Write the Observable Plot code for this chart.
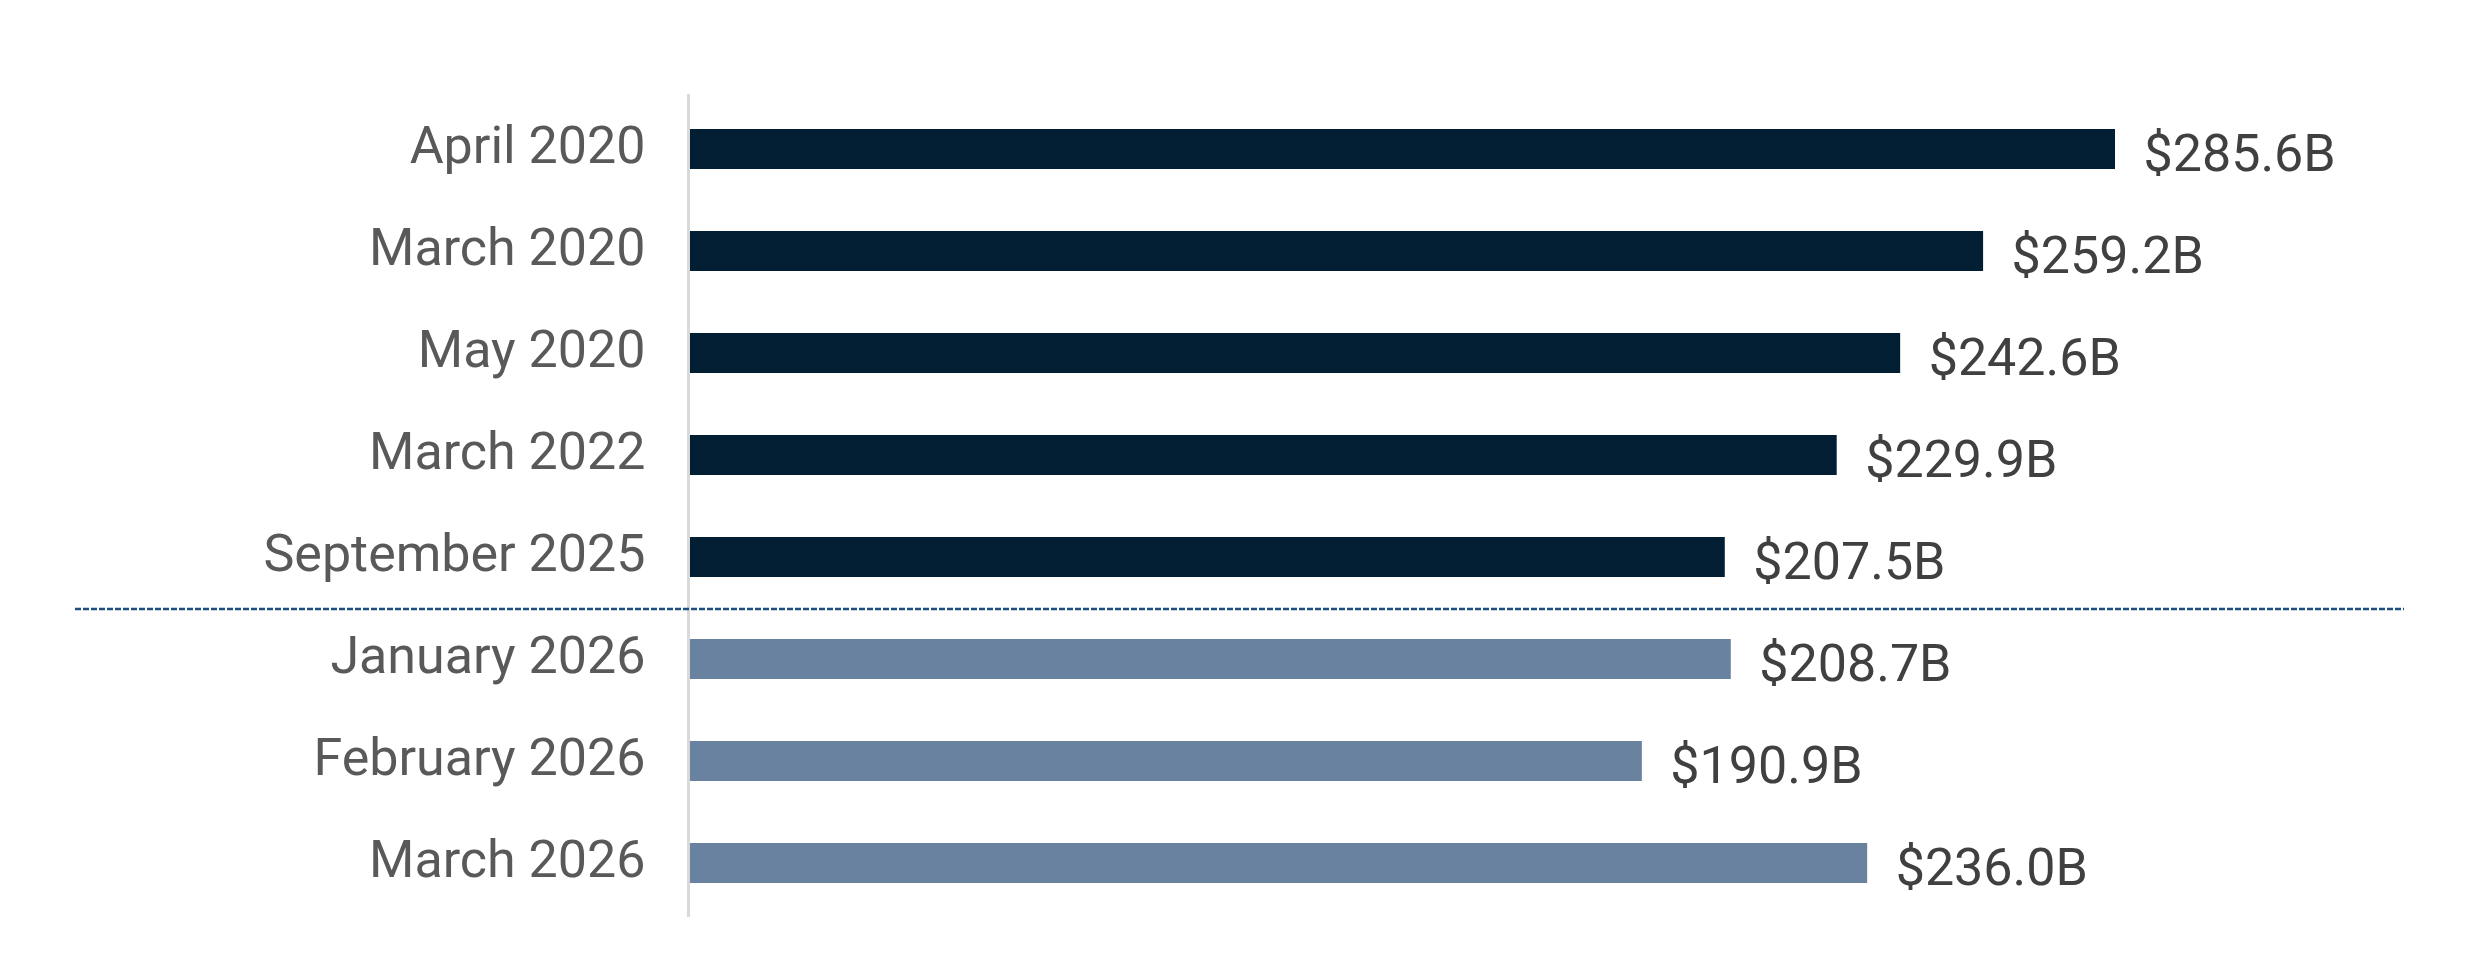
<!DOCTYPE html>
<html>
<head>
<meta charset="utf-8">
<script src="https://cdn.jsdelivr.net/npm/d3@7"></script>
<script src="https://cdn.jsdelivr.net/npm/@observablehq/plot@0.6"></script>
<style>
  html, body { margin: 0; padding: 0; background: #ffffff; }
  #chart svg { display: block; }
</style>
</head>
<body>
<div id="chart"></div>
<script>
const categories = ["April 2020", "March 2020", "May 2020", "March 2022", "September 2025", "January 2026", "February 2026", "March 2026"];
const values = [285.6, 259.2, 242.6, 229.9, 207.5, 208.7, 190.9, 236.0];
const groups = ["past", "past", "past", "past", "past", "2026", "2026", "2026"];
const groupNames = ["past", "2026"];
const groupColors = ["#011e32", "#68829f"];
const separatorBefore = ["January 2026"];

const data = categories.map((c, i) => ({category: c, value: values[i], group: groups[i]}));

const W = 2479, H = 957;
const marginTop = 94, marginBottom = 40, marginLeft = 688, marginRight = 364;
const step = (H - marginTop - marginBottom) / categories.length;

const chart = Plot.plot({
  width: W,
  height: H,
  marginTop, marginBottom, marginLeft, marginRight,
  style: {fontFamily: "Roboto, 'Liberation Sans', sans-serif", color: "#595959", background: "#ffffff"},
  x: {domain: [0, d3.max(values)], axis: null},
  y: {domain: categories, paddingInner: 0.61, paddingOuter: 0.305, label: null},
  color: {domain: groupNames, range: groupColors},
  marks: [
    Plot.barX(data, {y: "category", x: "value", fill: "group", insetLeft: 2}),
    Plot.ruleX([0], {stroke: "#d9d9d9", strokeWidth: 3}),
    Plot.ruleY(separatorBefore, {y: d => d, dy: -step / 2 + 1, stroke: "#1f4f7f", strokeWidth: 2.5, strokeDasharray: "6,2", insetLeft: -613, insetRight: -289}),
    Plot.axisY({tickSize: 0, tickPadding: 43, fontSize: 52, fill: "#595959", label: null, dy: -3}),
    Plot.text(data, {y: "category", x: "value", text: d => `$${d.value.toFixed(1)}B`, textAnchor: "start", dx: 28, dy: 5, fontSize: 52, fill: "#404040"})
  ]
});
document.getElementById("chart").appendChild(chart);
</script>
</body>
</html>
